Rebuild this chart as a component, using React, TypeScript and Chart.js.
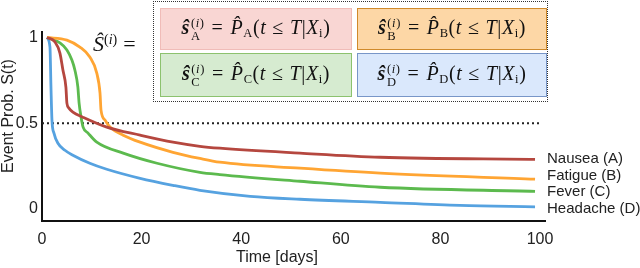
import React, { useEffect, useRef } from "react";
import { Chart, registerables } from "chart.js";

Chart.register(...registerables);

// ---------- data ----------
const X_TICKS = [0, 20, 40, 60, 80, 100];
const Y_TICKS = [0, 0.5, 1];
const SERIES_NAMES = ["Nausea (A)", "Fatigue (B)", "Fever (C)", "Headache (D)"];
const SUBSCRIPTS = ["A", "B", "C", "D"];

const NAUSEA_T = [1, 2.6, 3.6, 4.2, 4.8, 5.0, 5.4, 6.2, 8.2, 13, 19.7, 26.3, 31.7, 35.7, 51.8, 67.9, 99];
const NAUSEA_S = [1, 0.974, 0.909, 0.81, 0.711, 0.617, 0.588, 0.564, 0.535, 0.477, 0.43, 0.389, 0.365, 0.354, 0.325, 0.301, 0.289];

const FATIGUE_T = [1, 5.0, 7.6, 9.6, 11.0, 11.65, 11.85, 12.65, 13.65, 16.3, 19.7, 26.3, 31.7, 35.7, 51.8, 67.9, 99];
const FATIGUE_S = [1, 0.985, 0.944, 0.886, 0.792, 0.675, 0.576, 0.518, 0.477, 0.43, 0.389, 0.33, 0.294, 0.272, 0.237, 0.208, 0.173];

const FEVER_T = [1, 3.6, 5.0, 6.0, 6.6, 7.2, 7.45, 7.85, 8.25, 9.25, 11.0, 16.3, 23.1, 31.7, 35.7, 51.8, 67.9, 99];
const FEVER_S = [1, 0.968, 0.927, 0.868, 0.81, 0.711, 0.617, 0.535, 0.477, 0.442, 0.389, 0.325, 0.266, 0.213, 0.2, 0.161, 0.126, 0.102];

const HEADACHE_T = [1, 1.6, 1.8, 2.0, 2.4, 3.2, 4.6, 6.2, 9.6, 13, 19.7, 26.3, 31.7, 41.8, 51.8, 67.9, 83.9, 99];
const HEADACHE_S = [1, 0.944, 0.711, 0.518, 0.442, 0.383, 0.342, 0.313, 0.266, 0.231, 0.178, 0.137, 0.108, 0.073, 0.056, 0.038, 0.02, 0.012];

const THRESHOLD = 0.5;

// ---------- styles ----------
const COLORS = ["#b5473f", "#ffa533", "#5cba4e", "#56a2e0"];
const LABEL_DY = [0, -3, 1, 2.5];
const BOX_FILL = ["#f9d6d3", "#fdd7a6", "#d6ebd0", "#dae8fc"];
const BOX_BORDER = ["#f0bcb8", "#d08a2b", "#8cc26e", "#7896c8"];
const SANS = '"Liberation Sans", Arial, sans-serif';
const SERIF = '"Liberation Serif", "Times New Roman", serif';

const toPoints = (t: number[], s: number[]) => t.map((x, i) => ({ x, y: s[i] }));

function Formula({ k }: { k: string }) {
  const sub = { fontSize: 12.5, verticalAlign: "-0.25em", fontStyle: "normal" as const };
  return (
    <div
      style={{
        fontFamily: SERIF,
        fontSize: 20,
        color: "#111",
        whiteSpace: "nowrap",
        lineHeight: 1,
        letterSpacing: 0.6,
        marginTop: 1,
      }}
    >
      <span style={{ fontWeight: 700, fontStyle: "italic" }}>{"\u015D"}</span>
      <span
        style={{
          display: "inline-flex",
          flexDirection: "column",
          alignItems: "flex-start",
          fontSize: 12.5,
          lineHeight: 1.0,
          verticalAlign: "middle",
          marginLeft: 1,
          marginRight: 7,
        }}
      >
        <span>
          (<i>i</i>)
        </span>
        <span>{k}</span>
      </span>
      <span style={{ marginRight: 7 }}>=</span>
      <i>{"P\u0302"}</i>
      <span style={sub}>{k}</span>
      <span>(</span>
      <i>t</i>
      <span style={{ margin: "0 6px" }}>{"\u2264"}</span>
      <i>T</i>
      <span>|</span>
      <i>X</i>
      <span style={sub}>i</span>
      <span>)</span>
    </div>
  );
}

const BOXES = [
  { left: 160, top: 8, width: 192, height: 42 },
  { left: 357, top: 8, width: 190, height: 42 },
  { left: 160, top: 53, width: 192, height: 44 },
  { left: 357, top: 53, width: 190, height: 44 },
];

export default function App() {
  const canvasRef = useRef<HTMLCanvasElement | null>(null);

  useEffect(() => {
    const canvas = canvasRef.current;
    if (!canvas) return;

    const textPlugin = {
      id: "texts",
      afterDraw(chart: any) {
        const ctx = chart.ctx;
        ctx.save();
        ctx.fillStyle = "#222";
        ctx.font = `15px ${SANS}`;
        ctx.textAlign = "left";
        ctx.textBaseline = "middle";
        SERIES_NAMES.forEach((name, i) => {
          const meta = chart.getDatasetMeta(i);
          const pt = meta.data[meta.data.length - 1];
          ctx.fillText(name, pt.x + 12, pt.y + LABEL_DY[i]);
        });
        ctx.font = `16px ${SANS}`;
        ctx.textAlign = "center";
        ctx.fillText("Time [days]", 277, 258);
        ctx.translate(9, 116);
        ctx.rotate(-Math.PI / 2);
        ctx.fillText("Event Prob. S(t)", 0, 0);
        ctx.restore();
      },
    };

    const seriesData = [
      toPoints(NAUSEA_T, NAUSEA_S),
      toPoints(FATIGUE_T, FATIGUE_S),
      toPoints(FEVER_T, FEVER_S),
      toPoints(HEADACHE_T, HEADACHE_S),
    ];

    const chart = new Chart(canvas, {
      type: "line",
      data: {
        datasets: [
          ...seriesData.map((d, i) => ({
            label: SERIES_NAMES[i],
            data: d,
            borderColor: COLORS[i],
            borderWidth: 2.8,
            pointRadius: 0,
            fill: false,
            cubicInterpolationMode: "monotone" as const,
          })),
          {
            label: "threshold",
            data: [
              { x: X_TICKS[0], y: THRESHOLD },
              { x: X_TICKS[X_TICKS.length - 1], y: THRESHOLD },
            ],
            borderColor: "#222",
            borderWidth: 2,
            borderDash: [2, 3],
            pointRadius: 0,
            fill: false,
          },
        ],
      },
      options: {
        responsive: false,
        animation: false,
        events: [],
        layout: { padding: { top: 32, right: 95, left: 0, bottom: 0 } },
        plugins: { legend: { display: false }, tooltip: { enabled: false } },
        scales: {
          x: {
            type: "linear",
            min: 0,
            max: 101,
            grid: { display: false, drawTicks: false },
            border: { display: true, color: "#111", width: 2 },
            ticks: {
              padding: 9,
              color: "#222",
              font: { family: SANS, size: 16 },
              callback: (v: any) => String(v),
            },
            afterBuildTicks: (scale: any) => {
              scale.ticks = X_TICKS.map((v) => ({ value: v }));
            },
            afterFit: (scale: any) => {
              scale.height = 47;
            },
          },
          y: {
            type: "linear",
            min: -0.071,
            max: 1.032,
            grid: { display: false, drawTicks: false },
            border: { display: true, color: "#111", width: 2 },
            ticks: {
              padding: 4,
              color: "#222",
              font: { family: SANS, size: 16 },
              callback: (v: any) => String(v),
            },
            afterBuildTicks: (scale: any) => {
              scale.ticks = Y_TICKS.map((v) => ({ value: v }));
            },
            afterFit: (scale: any) => {
              scale.width = 42;
            },
          },
        },
      },
      plugins: [textPlugin],
    });

    return () => chart.destroy();
  }, []);

  return (
    <div
      style={{
        position: "fixed",
        left: 0,
        top: 0,
        width: 640,
        height: 268,
        background: "#fff",
        overflow: "hidden",
      }}
    >
      <canvas
        ref={canvasRef}
        width={640}
        height={268}
        style={{ position: "absolute", left: 0, top: 0, width: 640, height: 268 }}
      />
      {/* formula annotation */}
      <div
        style={{
          position: "absolute",
          left: 93,
          top: 33,
          fontFamily: SERIF,
          fontSize: 22,
          lineHeight: 1,
          color: "#111",
          whiteSpace: "nowrap",
        }}
      >
        <i>{"\u015C"}</i>
        <span style={{ fontSize: 14, verticalAlign: "0.5em" }}>
          (<i>i</i>)
        </span>
        <span style={{ marginLeft: 6 }}>=</span>
      </div>
      <div
        style={{
          position: "absolute",
          left: 153,
          top: 1,
          width: 395,
          height: 101,
          boxSizing: "border-box",
          border: "1px dotted #333",
        }}
      />
      {BOXES.map((b, i) => (
        <div
          key={i}
          style={{
            position: "absolute",
            left: b.left,
            top: b.top,
            width: b.width,
            height: b.height,
            boxSizing: "border-box",
            background: BOX_FILL[i],
            border: `1.5px solid ${BOX_BORDER[i]}`,
            display: "flex",
            alignItems: "center",
            justifyContent: "center",
          }}
        >
          <Formula k={SUBSCRIPTS[i]} />
        </div>
      ))}
    </div>
  );
}
